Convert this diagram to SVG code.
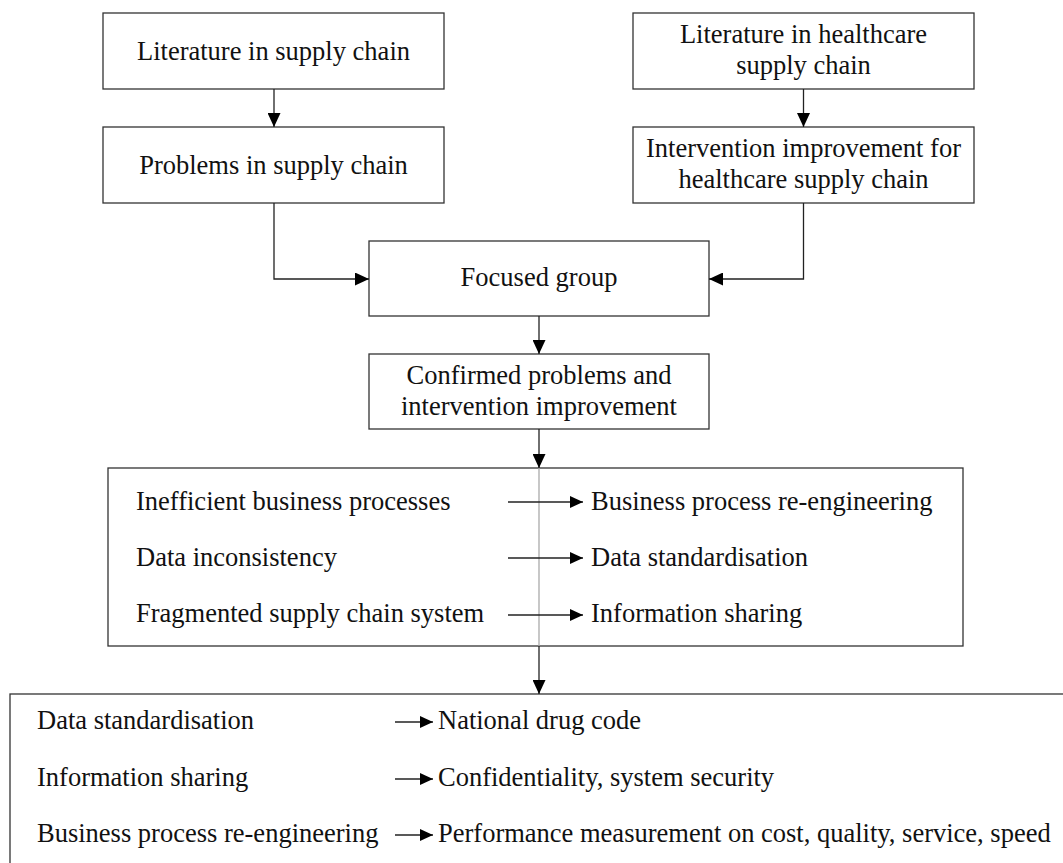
<svg xmlns="http://www.w3.org/2000/svg" width="1063" height="863" viewBox="0 0 1063 863">
<style>
.box{fill:#fff;stroke:#333;stroke-width:1.3}
.c{fill:none;stroke:#222;stroke-width:1.3}
.g{fill:none;stroke:#aaa;stroke-width:1.3}
text{font-family:"Liberation Serif","Times New Roman",serif;font-size:26.5px;fill:#111}
.m{text-anchor:middle}
</style>
<defs>
<marker id="ah" markerUnits="userSpaceOnUse" markerWidth="14" markerHeight="13" viewBox="0 0 14 13" refX="14" refY="6.5" orient="auto">
<path d="M0,0 L14,6.5 L0,13 z" fill="#000"/>
</marker>
<marker id="as" markerUnits="userSpaceOnUse" markerWidth="13" markerHeight="12" viewBox="0 0 13 12" refX="13" refY="6" orient="auto">
<path d="M0,0 L13,6 L0,12 z" fill="#000"/>
</marker>
</defs>
<rect width="1063" height="863" fill="#fff"/>
<g id="n1"><rect class="box" x="103" y="13" width="341" height="76"/><text class="m" x="273.5" y="60">Literature in supply chain</text></g>
<g id="n2"><rect class="box" x="103" y="127" width="341" height="76"/><text class="m" x="273.5" y="174">Problems in supply chain</text></g>
<g id="n3"><rect class="box" x="633" y="13" width="341" height="76"/><text class="m" x="803.5" y="43">Literature in healthcare</text><text class="m" x="803.5" y="74">supply chain</text></g>
<g id="n4"><rect class="box" x="633" y="127" width="341" height="76"/><text class="m" x="803.5" y="157">Intervention improvement for</text><text class="m" x="803.5" y="188">healthcare supply chain</text></g>
<g id="n5"><rect class="box" x="369" y="241" width="340" height="75"/><text class="m" x="539" y="286">Focused group</text></g>
<g id="n6"><rect class="box" x="369" y="354" width="340" height="75"/><text class="m" x="539" y="384">Confirmed problems and</text><text class="m" x="539" y="415">intervention improvement</text></g>
<g id="n7"><rect class="box" x="108" y="468" width="855" height="178"/>
<text x="136" y="510">Inefficient business processes</text>
<text x="136" y="566">Data inconsistency</text>
<text x="136" y="622">Fragmented supply chain system</text>
<text x="591" y="510">Business process re-engineering</text>
<text x="591" y="566">Data standardisation</text>
<text x="591" y="622">Information sharing</text>
</g>
<g id="n8"><rect class="box" x="10" y="694" width="1070" height="190"/>
<text x="37" y="729">Data standardisation</text>
<text x="37" y="786">Information sharing</text>
<text x="37" y="842">Business process re-engineering</text>
<text x="438" y="729">National drug code</text>
<text x="438" y="786">Confidentiality, system security</text>
<text x="438" y="842">Performance measurement on cost, quality, service, speed</text>
</g>
<g id="connectors">
<line class="c" x1="274" y1="89" x2="274" y2="127" marker-end="url(#ah)"/>
<line class="c" x1="803.5" y1="89" x2="803.5" y2="127" marker-end="url(#ah)"/>
<path class="c" d="M274,203 V279 H369" marker-end="url(#ah)"/>
<path class="c" d="M803.5,203 V279 H709" marker-end="url(#ah)"/>
<line class="c" x1="539" y1="316" x2="539" y2="354" marker-end="url(#ah)"/>
<line class="c" x1="539" y1="429" x2="539" y2="468" marker-end="url(#ah)"/>
<line class="g" x1="539" y1="468" x2="539" y2="646"/>
<line class="c" x1="539" y1="646" x2="539" y2="694" marker-end="url(#ah)"/>
<line class="c" x1="508" y1="502" x2="583" y2="502" marker-end="url(#as)"/>
<line class="c" x1="508" y1="558" x2="583" y2="558" marker-end="url(#as)"/>
<line class="c" x1="508" y1="615" x2="583" y2="615" marker-end="url(#as)"/>
<line class="c" x1="395" y1="722" x2="433" y2="722" marker-end="url(#as)"/>
<line class="c" x1="395" y1="779" x2="433" y2="779" marker-end="url(#as)"/>
<line class="c" x1="395" y1="835" x2="433" y2="835" marker-end="url(#as)"/>
</g>
</svg>
